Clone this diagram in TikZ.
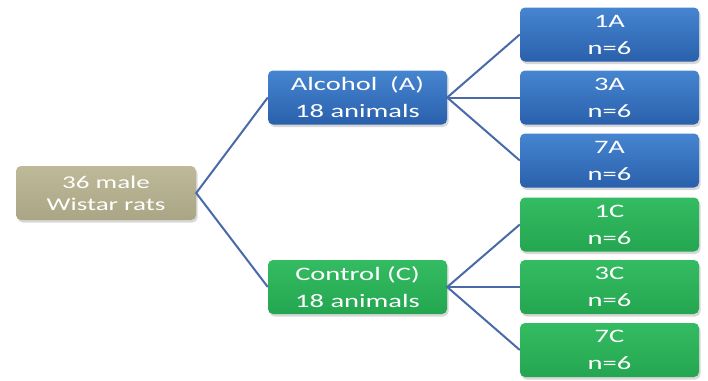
\documentclass[tikz,border=0pt]{standalone}
\usepackage{fontspec}
\setmainfont{Carlito}[FakeStretch=1.5]
\usetikzlibrary{shadows}
\definecolor{blueT}{RGB}{70,133,208}
\definecolor{blueB}{RGB}{42,96,172}
\definecolor{greenT}{RGB}{52,188,98}
\definecolor{greenB}{RGB}{36,166,80}
\definecolor{tanT}{RGB}{190,185,152}
\definecolor{tanB}{RGB}{170,165,132}
\definecolor{linec}{RGB}{72,106,168}
\begin{document}
\begin{tikzpicture}[x=1pt,y=-1pt,
  box/.style={rounded corners=5pt, text=white, align=center, minimum width=179pt,
    minimum height=54pt, inner sep=0pt,
    drop shadow={opacity=0.3, shadow xshift=1.5pt, shadow yshift=-2.5pt},
    font=\fontsize{19}{27}\selectfont},
  bluebox/.style={box, top color=blueT, bottom color=blueB},
  greenbox/.style={box, top color=greenT, bottom color=greenB},
  tanbox/.style={box, top color=tanT, bottom color=tanB, minimum width=180pt,
    font=\fontsize{18}{22}\selectfont},
  conn/.style={draw=linec, line width=2pt}]
\fill[white] (0,0) rectangle (708,380);
\useasboundingbox (0,0) rectangle (708,380);

\node[tanbox] (root) at (106,193) {36 male\\Wistar rats};
\node[bluebox] (alc) at (357.5,97.5) {Alcohol\ \ (A)\\18 animals};
\node[greenbox] (ctl) at (357.5,287) {Control (C)\\18 animals};

\node[bluebox] (a1) at (609.5,34.5) {1A\\n=6};
\node[bluebox] (a3) at (609.5,97.5) {3A\\n=6};
\node[bluebox] (a7) at (609.5,160.5) {7A\\n=6};
\node[greenbox] (c1) at (609.5,224.5) {1C\\n=6};
\node[greenbox] (c3) at (609.5,287) {3C\\n=6};
\node[greenbox] (c7) at (609.5,350) {7C\\n=6};

\draw[conn] (alc.west) -- (root.east) -- (ctl.west);
\draw[conn] (a1.west) -- (alc.east) -- (a7.west);
\draw[conn] (alc.east) -- (a3.west);
\draw[conn] (c1.west) -- (ctl.east) -- (c7.west);
\draw[conn] (ctl.east) -- (c3.west);
\end{tikzpicture}
\end{document}
